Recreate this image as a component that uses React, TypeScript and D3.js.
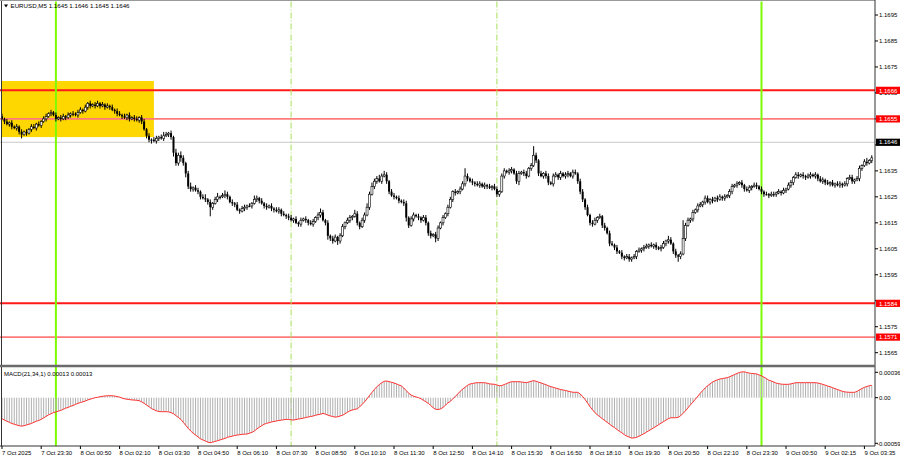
import React from 'react';
import * as d3 from 'd3';

// Close prices in pips above 1.1600, one per M5 bar (7 Oct 22:10 .. 9 Oct 03:55)
const closes = [
  55,54,53,53.5,52,51.5,52,50,49,50,49.5,51,52,51.5,53,52.5,54,55,56,57,
  57.5,56.5,55,55.5,55,56,55.5,56.5,57,57,56.5,57.5,58.5,58,59.5,61,60,60.5,60,61,
  60,60.5,59.5,60,59.5,58.5,58,57,56.5,56,55.5,56.5,55,55.5,55,54.5,55.5,54,51,48.5,
  47,47,46.5,47.5,48,47.5,48.5,49,49.5,48,42,38,41,40,38,34,29,28,28.5,27.5,
  27,25,24.5,24,23,21,22.5,24,25,25,25.5,26,25,23,22.5,22,20,19.5,20.5,21,
  21.5,21.5,22.5,24,24.5,23.5,22.5,21.5,21,21.5,20.5,20,19.5,20,18.5,18,17.5,17,16,16.5,
  15,14.5,16,16.5,16,15,14.5,15.5,17,18,19,16,15,10,9,8,9.5,8,10,13.5,
  15,16,17,17.5,18.5,15,13.5,16,18,21,26,29,31,32,31,33,33.5,31,27,25.5,
  25,24.5,23.5,23,22.5,17,14,16.5,18,17.5,17,16,17,15,11,10,10.5,9,13,15,
  17,18.5,21,24,27,26.5,27,28,30,33,32,31,30.5,30,29.5,30,29,29.5,29,28.5,
  29,28,26,27,33,35,34.5,35,35.5,34,31,34,34.5,34,33,36,37,41,39,34,
  33,34,33,30.5,30,33,33.5,32.5,34,33,33.5,34,33,34.5,34,31,27,24,21,18,
  15,14.5,16,17,17.5,14,13,11,7,6.5,5.5,4,3.5,2,1.5,2,1,1.5,2,4,
  4.5,5,5.5,6,6.5,6,6.5,5.5,5,5.5,7,8,8.5,7,4,2.5,2,3,9,14,
  16,16.5,19,20,21.5,22,23,24.5,23,24,23.5,24.5,24,25,24.5,25,25.5,27,29,29.5,
  30,30.5,29.5,28,27.5,28.5,29,29.5,29,28,27,26,26,25.5,26,26,26.5,27,26.5,27.5,
  28,29.5,30.5,32.5,33.5,33,33.5,33,32.5,33,33.5,33,33.5,32,31,31.5,30.5,30,30.5,29.5,
  30,29.5,30,29.5,30,32,32.5,31,31.5,32,36,37,38.5,38,39,40,
];
const firstOpen = 56;

// Upper / lower wick lengths in pips
const upWick = [
  1,0.5,1,0.5,1,0.5,1,0.5,1,0.5,1,0.5,1,1,0.5,1,0.5,1,1,0.5,
  1,0.5,1,0.5,1,1,0.5,1,0.5,1,0.5,1,1,0.5,1,0.5,1,0.5,1,1,
  0.5,1,0.5,1,0.5,1,0.5,1,1,0.5,1,0.5,1,0.5,1,1,0.5,1,1,0.5,
  1,0.5,1,1,0.5,1,1.5,1,0.5,1,0.5,1.5,1,1.5,1,0.5,1,1.5,0.5,1,
  1,0.5,1,1.5,0.5,1,0.5,1,1.5,0.5,1,1.5,1,0.5,1,0.5,1,0.5,1,1,
  0.5,1,0.5,1.5,1,0.5,1,0.5,1,0.5,1,0.5,1,1,0.5,1,0.5,1,1,0.5,
  1,0.5,1,0.5,1,0.5,1,1,0.5,1,1.5,1,0.5,1,0.5,1,1,0.5,1,1,
  0.5,1,1,0.5,1.5,1,0.5,1,1,1.5,1,1.5,1,1,1.5,1,1.5,1,0.5,1,
  1,0.5,1,0.5,1,1,0.5,1,1,0.5,1,0.5,1,1,0.5,1,0.5,1,1,0.5,
  1,0.5,1,1,0.5,1,0.5,1,1,3,1,0.5,1,0.5,1,1,0.5,1,0.5,1,
  0.5,1,1,0.5,1,1,0.5,1,1,0.5,1,1,0.5,1,1,0.5,1,3.5,1,0.5,
  1,0.5,1,1,0.5,1,1,0.5,1,0.5,1,1,0.5,1,1,0.5,1,1,0.5,1,
  0.5,1,1,0.5,1,0.5,1,0.5,1,1,0.5,1,0.5,1,0.5,1,1,0.5,1,0.5,
  1,0.5,1,1,0.5,1,0.5,1,0.5,1,1,0.5,1.5,1,0.5,1,0.5,1,7,1,
  1,0.5,1,0.5,1,1,0.5,1,1,0.5,1,0.5,1,1,0.5,1,0.5,1,1,0.5,
  1,0.5,1,0.5,1,1,0.5,1,1,0.5,1,0.5,1,0.5,1,1,0.5,1,0.5,1,
  0.5,1,1,0.5,1,1,0.5,1,0.5,1,1,0.5,1,0.5,1,1,0.5,1,0.5,1,
  0.5,1,1,0.5,1,0.5,1,1,0.5,1,1,0.5,1,1.5,0.5,1,
];
const dnWick = [
  0.5,1,0.5,1,1,0.5,1,1,1.5,0.5,1,0.5,1,0.5,1,0.5,1,0.5,1,0.5,
  1,0.5,1,0.5,1,0.5,1,0.5,1,1,0.5,1,0.5,1,0.5,1,1,0.5,1,0.5,
  1,0.5,1,0.5,1,0.5,1,1,0.5,1,0.5,1,1,0.5,1,0.5,1,1,0.5,1,
  1,1.5,0.5,1,1,0.5,1,0.5,1,1,1.5,1,1,1.5,1,1.5,1,1,1,0.5,
  1,1,0.5,1,1,3.5,1,0.5,1,1,0.5,1,1,0.5,1,1,0.5,1,0.5,1,
  1,0.5,1,0.5,1,1,0.5,1,1,0.5,1,1,0.5,1,1,0.5,1,1,0.5,1,
  0.5,1,1,0.5,1,1,0.5,1,0.5,1,1,0.5,1,1.5,1,1,0.5,1.5,1,0.5,
  1,0.5,1,1,0.5,1,1,0.5,1,0.5,1,0.5,1,1,0.5,1,0.5,1,1,0.5,
  1,0.5,1,0.5,1,1.5,1,0.5,1,0.5,1,1,0.5,1,1,1,0.5,1.5,1,0.5,
  1,0.5,1,0.5,1,1,0.5,1,0.5,1,1,0.5,1,1,0.5,1,0.5,1,1,0.5,
  1,0.5,1,1,0.5,1,0.5,1,1,0.5,1,1.5,0.5,1,1,0.5,1,0.5,1,1,
  0.5,1,1,1,0.5,1,0.5,1,1,0.5,1,1,0.5,1,0.5,1,1,1,1,0.5,
  1,1,0.5,1,0.5,1,1,0.5,1,0.5,1,1,0.5,1,1,0.5,1,1,0.5,1,
  0.5,1,1,0.5,1,0.5,1,1,0.5,1,0.5,1,1,0.5,1,1,2,1,0.5,1,
  0.5,1,1,0.5,1,0.5,1,1,0.5,1,1,0.5,1,0.5,1,1,0.5,1,1,0.5,
  1,0.5,1,1,0.5,1,1,0.5,1,0.5,1,1,0.5,1,0.5,1,1,0.5,1,0.5,
  1,0.5,1,1,0.5,1,0.5,1,1,0.5,1,0.5,1,1,0.5,1,1,0.5,1,0.5,
  1,0.5,1,1,0.5,1,0.5,1,1,0.5,1,1,0.5,1,0.5,1,
];

// MACD(21,34,1) main values in points (1e-5)
const macd = [
  -28,-30,-31.5,-33,-34.5,-35.5,-36.5,-37.5,-38,-37.5,-36.5,-35.5,-34.5,-33,-31.5,-30.5,-29,-27,-25,-23,
  -21.5,-20,-19,-18,-17,-15.5,-14,-13,-11.5,-10.5,-9,-7.5,-6.5,-5.5,-4.5,-3,-2,-1,0,0.5,
  1.3,1.8,2.3,2.6,2.7,2.6,2.2,1.5,0.8,-0.5,-1.5,-2,-2.5,-3,-3.2,-3.5,-4,-5.5,-7.5,-9.8,
  -12,-14.5,-16,-17.5,-18.5,-18.7,-18.7,-18.7,-19,-20,-21.5,-24,-26.5,-29,-33,-37,-41,-44.5,-47.5,-50,
  -52.5,-55,-56.5,-58,-59.5,-60.2,-59.5,-58.5,-57.5,-56.5,-55.5,-54.5,-53,-52.2,-51.5,-50.5,-50,-49.5,-49,-48.8,
  -48.6,-47.5,-46.5,-44.5,-42,-39.5,-37.5,-35.5,-34.3,-33.5,-32.5,-31.8,-31.2,-30.5,-30,-29.5,-29,-29.2,-29.6,-29.9,
  -29.2,-28.5,-28,-27.3,-26.5,-25.8,-25.2,-24.5,-23.5,-22.7,-22.1,-21,-22,-23.3,-24.4,-25.2,-26,-25.5,-24.5,-23.5,
  -21.5,-19.5,-17.5,-16.5,-15.5,-15,-12,-9,-5.5,-1.5,3,7,11,14.7,17.5,20,22,22.3,21.5,20.6,
  19.7,18.5,17,15.8,13,9.5,6,3.5,2,1,0,-1.3,-3.5,-5.5,-7.5,-10.5,-13.5,-15.5,-15.8,-15,
  -13,-10,-7,-5,-1.5,1.5,5,8.5,11.5,14,16.5,18.3,19,19.7,20.1,20.1,20.1,20,19.4,18.5,
  18.2,17.9,17,16,16.3,17.6,19,20.3,21.4,21.4,21.4,21.4,21,20.6,20.1,21,22,22.8,22,20.8,
  19.8,18.6,17.4,16,14.8,13.9,12.9,11.9,11,10.3,9.7,8.8,8,7.3,7.2,7.2,5,1.5,-2.5,-7,
  -12,-16,-20,-23,-25.4,-28,-30.5,-33,-35.5,-38,-40,-42.5,-45,-47,-49.5,-51.3,-52.8,-54,-53.8,-53.1,
  -51.5,-49.8,-48.2,-46.2,-44.2,-42.3,-40.3,-38.3,-36.2,-34,-32.1,-30,-28,-26.8,-26.8,-26.8,-26.2,-24,-21,-17.5,
  -13.5,-9.5,-6,-2,2,6,9.5,13,16,18.5,21,22.5,24,25,25.6,26.2,26.8,28,29.5,31,
  32.4,33.8,34.5,34.6,33.8,32.9,32.5,32.1,31.8,30.5,29.2,27.5,25.5,23.5,22.3,21,19.5,18.8,18.2,17.9,
  17.9,17.9,18.5,19.3,20,20.1,20.1,20.1,20.1,20.1,20.1,20.1,20.1,19.6,18.8,17.9,16.8,15.6,14.7,13.4,
  12.1,10.9,9.8,8.5,7.8,7.4,7.2,7.2,7.2,8.5,10.5,12.3,13.8,15,16,16.5,
];

// Time axis labels, one every 16 bars starting at bar 0
const timeLabels = [
  '7 Oct 2025', '7 Oct 23:30', '8 Oct 00:50', '8 Oct 02:10', '8 Oct 03:30', '8 Oct 04:50',
  '8 Oct 06:10', '8 Oct 07:30', '8 Oct 08:50', '8 Oct 10:10', '8 Oct 11:30', '8 Oct 12:50',
  '8 Oct 14:10', '8 Oct 15:30', '8 Oct 16:50', '8 Oct 18:10', '8 Oct 19:30', '8 Oct 20:50',
  '8 Oct 22:10', '8 Oct 23:30', '9 Oct 00:50', '9 Oct 02:15', '9 Oct 03:35',
];
const priceTicks = [1.1695, 1.1685, 1.1675, 1.1665, 1.1655, 1.1645, 1.1635, 1.1625, 1.1615, 1.1605, 1.1595, 1.1585, 1.1575, 1.1565];
// tick labels hidden behind the price tags in the reference
const hiddenTickLabels = [1.1655, 1.1645, 1.1585];
const levelPrices = [1.1666, 1.1655, 1.1584, 1.1571];
const bidPrice = 1.1646;
const zonePrices = [1.16696, 1.1648];
const zoneBars = [0, 62];
const dayLineBars = [22, 310];
const sessionLineBars = [118, 202];
const macdTicks = [0.00036, 0.0, -0.00059];
const macdTickLabels = ['0.00036', '0.00', '-0.00059'];

const FONT = "'Liberation Sans', Arial, sans-serif";

export default function App() {
  const n = closes.length;
  const x = d3.scaleLinear().domain([0, n - 1]).range([2, 2 + (n - 1) * 2.45]);
  const y = d3.scaleLinear().domain([1.1565, 1.1695]).range([352.7, 15]);
  const ym = d3.scaleLinear().domain([0, 0.00036]).range([397.7, 370.8]);
  const axisX = 875;
  const mainTop = 1.5, sepY = 366, macdBottom = 446;

  const bars = closes.map((c, i) => {
    const o = i === 0 ? firstOpen : closes[i - 1];
    const hi = Math.max(o, c) + (upWick[i] ?? 0.5);
    const lo = Math.min(o, c) - (dnWick[i] ?? 0.5);
    return { i, o: 1.16 + o / 10000, c: 1.16 + c / 10000, h: 1.16 + hi / 10000, l: 1.16 + lo / 10000 };
  });

  const macdLine = d3.line<number>().x((_, i) => x(i)).y((d) => ym(d / 100000));

  const levelStyle = (k: number) =>
    k % 2 === 0 ? { stroke: '#ff1a1a', w: 2 } : { stroke: '#ff7a7a', w: 1.6 };

  return (
    <svg width={900} height={460} style={{ position: 'absolute', left: 0, top: 0, background: '#fff' }}
      fontFamily={FONT}>
      <rect x={0} y={0} width={900} height={460} fill="#fff" />
      {/* zone */}
      <rect x={x(zoneBars[0])} y={y(zonePrices[0])} width={x(zoneBars[1]) - x(zoneBars[0])}
        height={y(zonePrices[1]) - y(zonePrices[0])} fill="#ffd700" />
      {/* bid line */}
      <line x1={0} x2={axisX} y1={y(bidPrice)} y2={y(bidPrice)} stroke="#c8c8c8" strokeWidth={1} />
      {/* levels */}
      {levelPrices.map((p, k) => {
        const s = levelStyle(k);
        return <line key={p} x1={0} x2={axisX} y1={y(p)} y2={y(p)} stroke={s.stroke} strokeWidth={s.w} />;
      })}
      {/* vertical lines */}
      <g>
        {sessionLineBars.map((b) => (
          <line key={'s' + b} x1={x(b)} x2={x(b)} y1={mainTop} y2={macdBottom}
            stroke="#a8e05a" strokeWidth={1} strokeDasharray="6,2,1,2" />
        ))}
        {dayLineBars.map((b) => (
          <line key={'d' + b} x1={x(b)} x2={x(b)} y1={mainTop} y2={macdBottom}
            stroke="#7cfc00" strokeWidth={2} />
        ))}
      </g>
      {/* candles */}
      <g>
        {bars.map((b) => {
          const cx = x(b.i);
          const top = y(Math.max(b.o, b.c));
          const bot = y(Math.min(b.o, b.c));
          const bull = b.c > b.o;
          const hgt = Math.max(1, bot - top);
          return (
            <g key={b.i}>
              <line x1={cx} x2={cx} y1={y(b.h)} y2={y(b.l)} stroke="#000" strokeWidth={1} />
              <rect x={cx - 1} y={top} width={2} height={hgt}
                fill={bull ? '#ffffff' : '#000'} stroke="#000" strokeWidth={bull ? 0.6 : 0} />
            </g>
          );
        })}
      </g>
      {/* MACD histogram */}
      <g>
        {macd.map((m, i) => (
          <line key={i} x1={x(i)} x2={x(i)} y1={ym(0)} y2={ym(m / 100000)} stroke="#b0b0b0" strokeWidth={1} />
        ))}
        <path d={macdLine(macd) || ''} fill="none" stroke="#ff3030" strokeWidth={1} />
      </g>
      {/* frame */}
      <line x1={1.5} x2={1.5} y1={0} y2={macdBottom} stroke="#333" strokeWidth={1} />
      <line x1={0} x2={axisX} y1={0.5} y2={0.5} stroke="#999" strokeWidth={1} />
      <line x1={axisX} x2={axisX} y1={0} y2={macdBottom} stroke="#333" strokeWidth={1} />
      <line x1={0} x2={axisX} y1={sepY} y2={sepY} stroke="#6a6a6a" strokeWidth={2.5} />
      <line x1={0} x2={axisX} y1={macdBottom} y2={macdBottom} stroke="#333" strokeWidth={1} />
      {/* price axis */}
      <g fontSize={6} fill="#000">
        {priceTicks.map((p) => (
          <g key={p}>
            <line x1={axisX} x2={axisX + 3} y1={y(p)} y2={y(p)} stroke="#000" strokeWidth={1} />
            {hiddenTickLabels.includes(p) ? null : (
              <text x={axisX + 4} y={y(p) + 2.2}>{p.toFixed(4)}</text>
            )}
          </g>
        ))}
      </g>
      {/* level labels */}
      <g fontSize={6}>
        {levelPrices.map((p) => (
          <g key={p}>
            <rect x={axisX + 1} y={y(p) - 3.6} width={24} height={7.2} fill="#ff0000" />
            <text x={axisX + 4} y={y(p) + 2.2} fill="#fff">{p.toFixed(4)}</text>
          </g>
        ))}
        <rect x={axisX + 1} y={y(bidPrice) - 3.6} width={24} height={7.2} fill="#000" />
        <text x={axisX + 4} y={y(bidPrice) + 2.2} fill="#fff">{bidPrice.toFixed(4)}</text>
      </g>
      {/* MACD axis */}
      <g fontSize={6} fill="#000">
        {macdTicks.map((m, k) => {
          const yy = k === 0 ? 372.3 : k === 2 ? 443.3 : ym(m);
          return (
            <g key={k}>
              <line x1={axisX} x2={axisX + 3} y1={yy} y2={yy} stroke="#000" strokeWidth={1} />
              <text x={k === 2 ? axisX + 2 : axisX + 4} y={yy + 2.2}>{macdTickLabels[k]}</text>
            </g>
          );
        })}
      </g>
      {/* time axis */}
      <g fontSize={6} fill="#000">
        {timeLabels.map((t, k) => {
          const xx = x(k * 16);
          return (
            <g key={t}>
              <line x1={xx} x2={xx} y1={macdBottom} y2={macdBottom + 3} stroke="#000" strokeWidth={1} />
              <text x={xx} y={455}>{t}</text>
            </g>
          );
        })}
      </g>
      {/* titles */}
      <path d="M4,4.5 L8,4.5 L6,7.5 Z" fill="#000" />
      <text x={10.5} y={8.3} fontSize={6.2} fill="#000">EURUSD,M5  1.1645 1.1646 1.1645 1.1646</text>
      <text x={4} y={375.5} fontSize={6} fill="#000">MACD(21,34,1) 0.00013 0.00013</text>
    </svg>
  );
}
